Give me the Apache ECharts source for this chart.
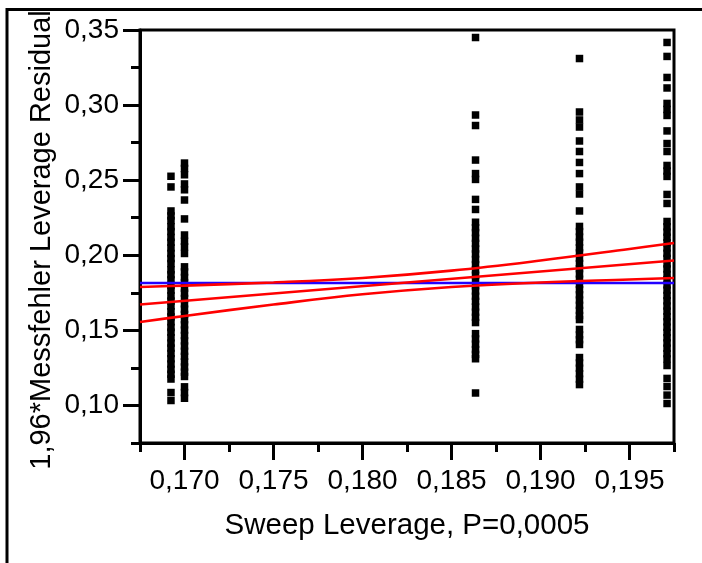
<!DOCTYPE html>
<html>
<head>
<meta charset="utf-8">
<script src="https://cdn.jsdelivr.net/npm/echarts@6/dist/echarts.min.js"></script>
<style>
  html, body { margin: 0; padding: 0; background: #fff; }
  #chart { width: 702px; height: 563px; }
</style>
</head>
<body>
<div id="chart"></div>
<script>
// Leverage plot: residual leverage against sweep leverage.

// Axis ranges and ticks
const xRange = [0.1675, 0.1975];
const yRange = [0.075, 0.35];
const xTickValues = [0.170, 0.175, 0.180, 0.185, 0.190, 0.195];
const xTickLabels = ['0,170', '0,175', '0,180', '0,185', '0,190', '0,195'];
const yTickValues = [0.10, 0.15, 0.20, 0.25, 0.30, 0.35];
const yTickLabels = ['0,10', '0,15', '0,20', '0,25', '0,30', '0,35'];
const xMinorStep = 0.0025;
const yMinorStep = 0.025;
const xTitle = 'Sweep Leverage, P=0,0005';
const yTitle = '1,96*Messfehler Leverage Residual';

// Sweep leverage of each group of observations
const groupLeverage = [0.16924, 0.1700, 0.18635, 0.19219, 0.19711];

// Leverage residuals per group
const residualsG1 = [0.2526, 0.2455, 0.2295, 0.2262, 0.2231, 0.2190, 0.2158, 0.2119, 0.2087, 0.2049,
  0.2012, 0.1978, 0.1945, 0.1903, 0.1871, 0.1836, 0.1799, 0.1768, 0.1730, 0.1695, 0.1662, 0.1624,
  0.1590, 0.1557, 0.1519, 0.1488, 0.1451, 0.1415, 0.1382, 0.1346, 0.1311, 0.1276, 0.1240, 0.1208,
  0.1176, 0.1086, 0.1033];
const residualsG2 = [0.2614, 0.2578, 0.2536, 0.2475, 0.2436, 0.2368, 0.2242, 0.2135, 0.2093, 0.2056,
  0.2012, 0.1923, 0.1889, 0.1852, 0.1818, 0.1781, 0.1748, 0.1712, 0.1677, 0.1641, 0.1606, 0.1571,
  0.1537, 0.1502, 0.1466, 0.1430, 0.1396, 0.1361, 0.1327, 0.1290, 0.1256, 0.1222, 0.1193, 0.1124,
  0.1086, 0.1048];
const residualsG3 = [0.3450, 0.2934, 0.2864, 0.2634, 0.2544, 0.2505, 0.2372, 0.2305, 0.2220, 0.2184,
  0.2151, 0.2113, 0.2079, 0.2042, 0.2009, 0.1972, 0.1938, 0.1903, 0.1867, 0.1833, 0.1797, 0.1762,
  0.1727, 0.1693, 0.1656, 0.1621, 0.1587, 0.1552, 0.1478, 0.1443, 0.1408, 0.1372, 0.1340, 0.1311,
  0.1083];
const residualsG4 = [0.3310, 0.2954, 0.2901, 0.2854, 0.2761, 0.2691, 0.2618, 0.2544, 0.2455, 0.2408,
  0.2295, 0.2192, 0.2158, 0.2121, 0.2087, 0.2050, 0.2016, 0.1981, 0.1945, 0.1911, 0.1876, 0.1840,
  0.1806, 0.1771, 0.1737, 0.1702, 0.1667, 0.1633, 0.1599, 0.1572, 0.1506, 0.1470, 0.1438, 0.1406,
  0.1319, 0.1283, 0.1248, 0.1212, 0.1175, 0.1139];
const residualsG5 = [0.3417, 0.3324, 0.3184, 0.3114, 0.3011, 0.2971, 0.2931, 0.2828, 0.2744, 0.2691,
  0.2598, 0.2561, 0.2525, 0.2405, 0.2345, 0.2225, 0.2190, 0.2154, 0.2120, 0.2083, 0.2049, 0.2013,
  0.1979, 0.1943, 0.1909, 0.1872, 0.1838, 0.1803, 0.1768, 0.1732, 0.1697, 0.1662, 0.1628, 0.1591,
  0.1557, 0.1521, 0.1486, 0.1451, 0.1416, 0.1381, 0.1345, 0.1310, 0.1266, 0.1180, 0.1126, 0.1069,
  0.1013];

// Fitted line, its confidence curves and the mean of the residuals
const fitX = [0.1675, 0.1975];
const fitY = [0.1672, 0.1965];
const bandX = [0.1675, 0.1700, 0.1750, 0.1800, 0.1850, 0.1900, 0.1950, 0.1975];
const bandUpper = [0.1789, 0.1798, 0.1819, 0.1849, 0.1898, 0.1965, 0.2042, 0.2082];
const bandLower = [0.1556, 0.1596, 0.1672, 0.1740, 0.1789, 0.1819, 0.1839, 0.1849];
const meanResidual = 0.1815;

const residualGroups = [residualsG1, residualsG2, residualsG3, residualsG4, residualsG5];
const points = [];
residualGroups.forEach((ys, g) => ys.forEach(y => points.push([groupLeverage[g], y])));

const pairs = (xs, ys) => xs.map((x, i) => [x, ys[i]]);
const labelFor = (values, labels) => v => {
  const i = values.findIndex(t => Math.abs(t - v) < 1e-9);
  return i >= 0 ? labels[i] : '';
};

const FONT = "'Liberation Sans', Arial, sans-serif";
const INK = '#000';

const chart = echarts.init(document.getElementById('chart'), null, { renderer: 'canvas' });
chart.setOption({
  animation: false,
  backgroundColor: '#fff',
  grid: {
    left: 140, top: 30, right: 28, bottom: 120,
    show: true, borderColor: INK, borderWidth: 3, backgroundColor: 'transparent'
  },
  xAxis: [
    {
      type: 'value', min: xRange[0], max: xRange[1], position: 'bottom',
      name: xTitle, nameLocation: 'middle', nameGap: 68,
      nameTextStyle: { color: INK, fontFamily: FONT, fontSize: 29.5 },
      axisLine: { show: true, lineStyle: { color: INK, width: 3 } },
      axisTick: { show: true, customValues: xTickValues, length: 17, lineStyle: { color: INK, width: 3 } },
      axisLabel: {
        show: true, customValues: xTickValues, margin: 24,
        formatter: labelFor(xTickValues, xTickLabels),
        color: INK, fontFamily: FONT, fontSize: 28
      },
      splitLine: { show: false }
    },
    {
      type: 'value', min: xRange[0], max: xRange[1], interval: xMinorStep, position: 'bottom',
      axisLine: { show: false },
      axisTick: { show: true, length: 9, lineStyle: { color: INK, width: 3 } },
      axisLabel: { show: false },
      splitLine: { show: false }
    }
  ],
  yAxis: [
    {
      type: 'value', min: yRange[0], max: yRange[1], position: 'left',
      axisLine: { show: true, lineStyle: { color: INK, width: 3 } },
      axisTick: { show: true, customValues: yTickValues, length: 17, lineStyle: { color: INK, width: 3 } },
      axisLabel: {
        show: true, customValues: yTickValues, margin: 21,
        formatter: labelFor(yTickValues, yTickLabels),
        color: INK, fontFamily: FONT, fontSize: 28
      },
      splitLine: { show: false }
    },
    {
      type: 'value', min: yRange[0], max: yRange[1], interval: yMinorStep, position: 'left',
      axisLine: { show: false },
      axisTick: { show: true, length: 9, lineStyle: { color: INK, width: 3 } },
      axisLabel: { show: false },
      splitLine: { show: false }
    }
  ],
  graphic: [
    {
      type: 'text', silent: true, z: 50,
      x: 42, y: 240, rotation: Math.PI / 2,
      style: {
        text: yTitle, fill: INK, fontFamily: FONT, fontSize: 29,
        align: 'center', verticalAlign: 'middle',
        textAlign: 'center', textVerticalAlign: 'middle'
      }
    },
    {
      type: 'polyline', silent: true, z: 100,
      shape: { points: [[7, 563], [7, 9.5], [702, 9.5]] },
      style: { stroke: INK, lineWidth: 3, fill: null }
    }
  ],
  series: [
    {
      type: 'scatter', data: points, symbol: 'rect', symbolSize: 7.5,
      itemStyle: { color: INK, opacity: 1 }, z: 2
    },
    {
      type: 'line', data: pairs(bandX, bandUpper), smooth: 0.4, showSymbol: false,
      lineStyle: { color: '#ff0000', width: 2.6 }, z: 4
    },
    {
      type: 'line', data: pairs(bandX, bandLower), smooth: 0.4, showSymbol: false,
      lineStyle: { color: '#ff0000', width: 2.6 }, z: 4
    },
    {
      type: 'line', data: pairs(fitX, fitY), showSymbol: false,
      lineStyle: { color: '#ff0000', width: 2.6 }, z: 4
    },
    {
      type: 'line', data: pairs(xRange, [meanResidual, meanResidual]), showSymbol: false,
      lineStyle: { color: '#2200ff', width: 2.6 }, z: 3
    }
  ]
});
</script>
</body>
</html>
